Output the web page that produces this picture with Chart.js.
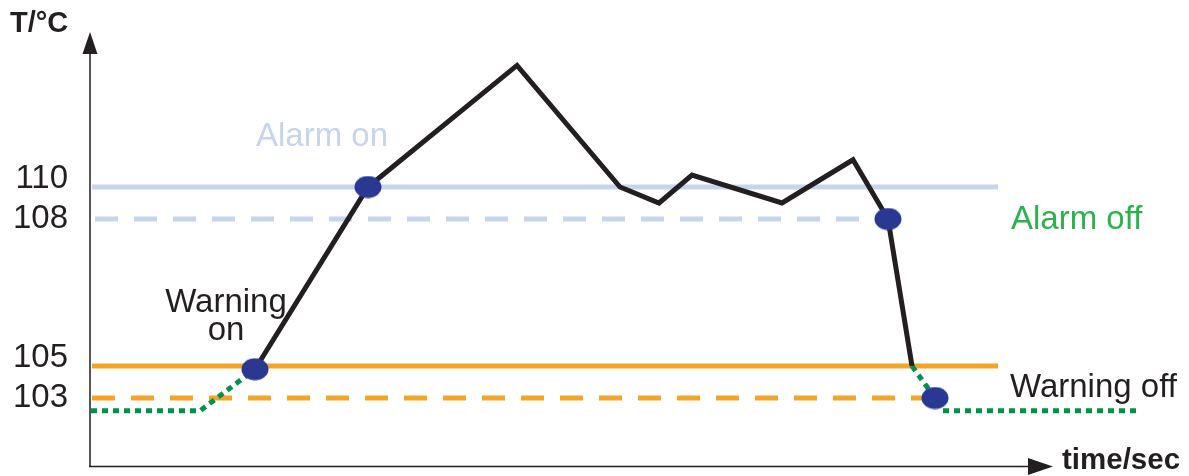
<!DOCTYPE html>
<html>
<head>
<meta charset="utf-8">
<script src="https://cdn.jsdelivr.net/npm/chart.js@4.4.1/dist/chart.umd.min.js"></script>
<style>
  html, body { margin: 0; padding: 0; background: #fff; }
  #wrap { width: 1189px; height: 476px; }
</style>
</head>
<body>
<div id="wrap"><canvas id="chart"></canvas></div>
<script>
const yTicks = [103, 105, 108, 110];

const alarmOnLevel = 110;
const alarmOffLevel = 108;
const warningOnLevel = 105;
const warningOffLevel = 103;

const alarmOnSpan = [0.2, 90.8];
const alarmOffSpan = [0.5, 77.2];
const warningOnSpan = [0.2, 90.8];
const warningOffSpan = [0.2, 84.0];

// measured temperature
const tempTime = [16.5, 27.8, 42.7, 53.0, 56.9, 60.2, 69.2, 76.3, 79.8, 82.2];
const tempValue = [104.8, 110, 117.6, 110, 109, 110.75, 109, 111.7, 108, 105];

// green dotted parts before and after
const preTime = [0.1, 11.0, 16.5];
const preValue = [102.2, 102.2, 104.8];
const postTime = [82.2, 84.5, 85.2, 104.6];
const postValue = [105, 103, 102.2, 102.2];

// switching points
const eventTime = [16.5, 27.8, 79.8, 84.5];
const eventValue = [104.8, 110, 108, 103];

const ink = '#231f20';
const lightBlue = '#c7d4ec';
const orange = '#f7a51e';
const green = '#00924a';
const font = '"Liberation Sans", Arial, sans-serif';

// sketch axis: the band 105..108 is drawn stretched
const stretch = 147 / 48;
function toAxis(t) {
  if (t <= 105) return t;
  if (t <= 108) return 105 + (t - 105) * stretch;
  return 105 + 3 * stretch + (t - 108);
}

function pts(xs, ys) {
  return xs.map((x, i) => ({ x: x, y: toAxis(ys[i]) }));
}

function level(span, v) {
  return pts(span, [v, v]);
}

// oval marker
const dot = document.createElement('canvas');
dot.width = 28;
dot.height = 23;
const dctx = dot.getContext('2d');
dctx.fillStyle = '#2a3893';
dctx.beginPath();
dctx.ellipse(14, 11.5, 13.5, 11, 0, 0, Math.PI * 2);
dctx.fill();

function lineSet(data, color, extra) {
  return Object.assign({
    data: data,
    borderColor: color,
    borderWidth: 5,
    pointRadius: 0,
    tension: 0,
    borderCapStyle: 'butt',
    clip: false
  }, extra || {});
}

function noPad(s) {
  s.paddingTop = 0;
  s.paddingBottom = 0;
  s.paddingLeft = 0;
  s.paddingRight = 0;
}

const drawExtras = {
  id: 'drawExtras',
  beforeDatasetsDraw(chart) {
    const ctx = chart.ctx;
    const a = chart.chartArea;
    ctx.save();
    ctx.strokeStyle = ink;
    ctx.fillStyle = ink;
    ctx.lineWidth = 1.5;
    ctx.beginPath();
    ctx.moveTo(a.left, a.bottom + 0.5);
    ctx.lineTo(a.left, a.top + 20);
    ctx.moveTo(a.left - 1, a.bottom + 0.5);
    ctx.lineTo(1030, a.bottom + 0.5);
    ctx.stroke();
    ctx.beginPath();
    ctx.moveTo(a.left, a.top);
    ctx.lineTo(a.left - 7.5, a.top + 22);
    ctx.lineTo(a.left + 7.5, a.top + 22);
    ctx.closePath();
    ctx.fill();
    ctx.beginPath();
    ctx.moveTo(1053, a.bottom + 0.5);
    ctx.lineTo(1028, a.bottom - 8);
    ctx.lineTo(1028, a.bottom + 9);
    ctx.closePath();
    ctx.fill();
    ctx.restore();
  },
  afterDraw(chart) {
    const ctx = chart.ctx;
    ctx.save();
    ctx.textBaseline = 'alphabetic';
    ctx.textAlign = 'left';
    ctx.fillStyle = ink;
    ctx.font = 'bold 29px ' + font;
    ctx.fillText('T/°C', 10, 32);
    ctx.font = 'bold 29.5px ' + font;
    ctx.fillText('time/sec', 1062, 469);

    ctx.font = '33px ' + font;
    ctx.fillStyle = lightBlue;
    ctx.fillText('Alarm on', 256, 146);
    ctx.fillStyle = '#2bb24c';
    ctx.fillText('Alarm off', 1011, 229);
    ctx.fillStyle = ink;
    ctx.fillText('Warning off', 1010, 397);
    ctx.textAlign = 'center';
    ctx.fillText('Warning', 226, 312);
    ctx.fillText('on', 226, 340);
    ctx.restore();
  }
};

new Chart(document.getElementById('chart'), {
  type: 'line',
  data: {
    datasets: [
      lineSet(pts(eventTime, eventValue), 'rgba(0,0,0,0)', {
        order: 0, showLine: false, pointRadius: 11, pointStyle: dot
      }),
      lineSet(pts(tempTime, tempValue), ink, { order: 1, borderJoinStyle: 'miter' }),
      lineSet(pts(preTime, preValue), green, { order: 2, borderDash: [6, 5] }),
      lineSet(pts(postTime, postValue), green, { order: 2, borderDash: [6, 5] }),
      lineSet(level(alarmOnSpan, alarmOnLevel), lightBlue, { order: 3 }),
      lineSet(level(alarmOffSpan, alarmOffLevel), lightBlue, { order: 3, borderDash: [23, 16] }),
      lineSet(level(warningOnSpan, warningOnLevel), orange, { order: 3 }),
      lineSet(level(warningOffSpan, warningOffLevel), orange, { order: 3, borderDash: [23, 16] })
    ]
  },
  options: {
    responsive: true,
    maintainAspectRatio: false,
    animation: false,
    layout: { autoPadding: false, padding: { top: 32, right: 49, left: 0, bottom: 0 } },
    plugins: { legend: { display: false }, tooltip: { enabled: false } },
    scales: {
      x: {
        type: 'linear',
        min: 0,
        max: 105,
        grid: { display: false, drawTicks: false },
        border: { display: false },
        ticks: { display: false },
        afterFit: (s) => { s.height = 10; noPad(s); }
      },
      y: {
        type: 'linear',
        min: 98.75,
        max: 125.875,
        grid: { display: false, drawTicks: false },
        border: { display: false },
        afterBuildTicks: (s) => { s.ticks = yTicks.map(t => ({ value: toAxis(t) })); },
        afterFit: (s) => { s.width = 90; noPad(s); },
        ticks: {
          padding: 22,
          labelOffset: 0,
          color: ink,
          font: { family: font, size: 33, lineHeight: '16px' },
          // 110 and 105 sit a little higher above their lines
          callback: (v, i) => {
            const t = yTicks[i];
            return (t === 110 || t === 105) ? [String(t), ''] : String(t);
          }
        }
      }
    }
  },
  plugins: [drawExtras]
});
</script>
</body>
</html>
